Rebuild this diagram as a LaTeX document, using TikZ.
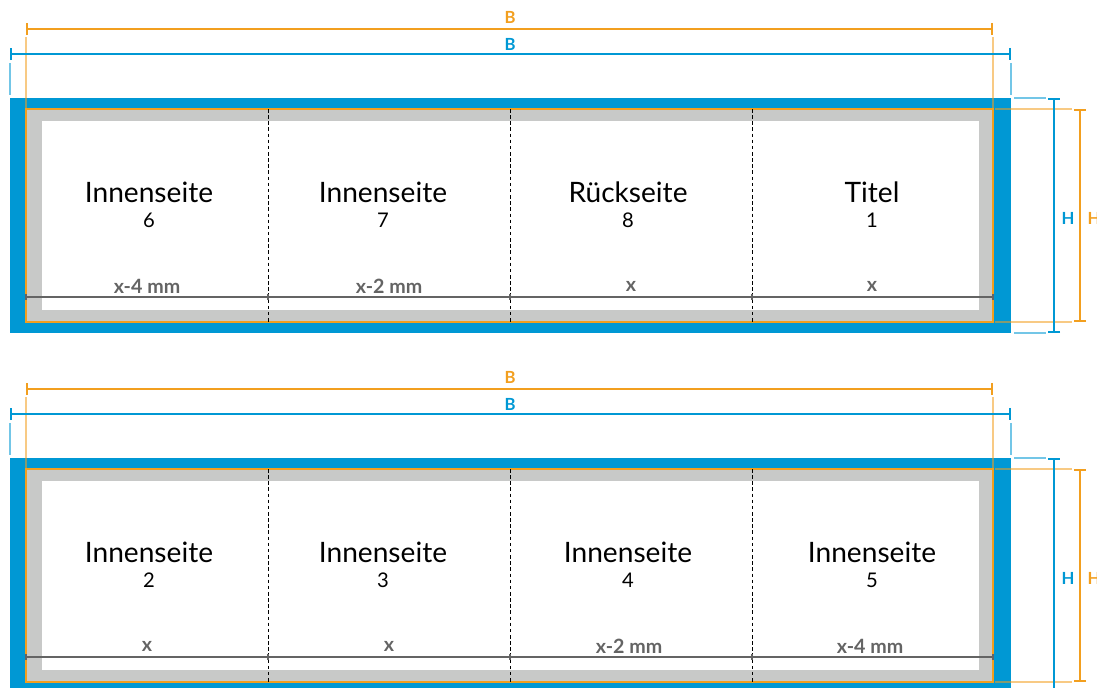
\documentclass[tikz,border=0pt]{standalone}
\usepackage{fontspec}
\setmainfont{Lato}
\usetikzlibrary{arrows.meta}

\definecolor{druckblau}{RGB}{0,152,212}
\definecolor{endorange}{RGB}{242,159,31}
\definecolor{randgrau}{RGB}{200,201,200}
\definecolor{massgrau}{RGB}{100,100,100}

\tikzset{
  bemassung/.style={line width=1.1pt, {Bar[width=7pt]}-{Bar[width=7pt]}},
  hilfslinie/.style={line width=0.9pt, opacity=0.55},
  falz/.style={line width=0.5pt, dash pattern=on 2pt off 1.5pt},
  masslinie/.style={massgrau, line width=1.1pt},
  seite/.style={font=\fontsize{16}{16}\selectfont},
  nummer/.style={font=\fontsize{11.5}{11.5}\selectfont},
  masstext/.style={massgrau, font=\fontsize{11.2}{11.2}\selectfont\bfseries},
  bmtext/.style={font=\fontsize{9.5}{9.5}\selectfont\bfseries}
}

\begin{document}
\begin{tikzpicture}[x=0.02cm, y=-0.02cm]
  \useasboundingbox (0,0) rectangle (1097,688);

  % Aussenseite
  \fill[druckblau] (10,98) rectangle (1011,333);
  \filldraw[fill=randgrau, draw=endorange, line width=1.1pt] (26,109) rectangle (993,322);
  \fill[white] (42,121) rectangle (979,310);
  \draw[falz] (268,109) -- (268,322);
  \draw[falz] (510,109) -- (510,322);
  \draw[falz] (752,109) -- (752,322);

  \node[seite] (s6) at (149,192) {Innenseite};
  \node[nummer] (n6) at (149,220) {6};
  \node[seite] (s7) at (383,192) {Innenseite};
  \node[nummer] (n7) at (383,220) {7};
  \node[seite] (s8) at (628,192) {Rückseite};
  \node[nummer] (n8) at (628,220) {8};
  \node[seite] (s1) at (872,192) {Titel};
  \node[nummer] (n1) at (872,220) {1};

  \draw[masslinie] (26,297) -- (993,297);
  \draw[masslinie, line width=1.6pt] (26,294) -- (26,300) (268,294) -- (268,300)
    (510,294) -- (510,300) (752,294) -- (752,300) (993,294) -- (993,300);
  \node[masstext] (m6) at (147,286) {x-4 mm};
  \node[masstext] (m7) at (389,286) {x-2 mm};
  \node[masstext] (m8) at (631,286) {x};
  \node[masstext] (m1) at (872,286) {x};

  \draw[hilfslinie, endorange] (26,37) -- (26,109);
  \draw[hilfslinie, endorange] (993,37) -- (993,109);
  \draw[hilfslinie, druckblau] (10,63) -- (10,95);
  \draw[hilfslinie, druckblau] (1011,63) -- (1011,95);
  \draw[bemassung, endorange] (26,29) -- (993,29);
  \node[bmtext, endorange] (bo1) at (510,17) {B};
  \draw[bemassung, druckblau] (10,54) -- (1011,54);
  \node[bmtext, druckblau] (bb1) at (510,44) {B};

  \draw[hilfslinie, druckblau] (1014,98) -- (1046,98);
  \draw[hilfslinie, druckblau] (1014,333) -- (1046,333);
  \draw[hilfslinie, endorange] (995,109) -- (1072,109);
  \draw[hilfslinie, endorange] (995,322) -- (1072,322);
  \draw[bemassung, druckblau] (1054,98) -- (1054,333);
  \node[bmtext, druckblau] (hb1) at (1068,218) {H};
  \draw[bemassung, endorange] (1080,109) -- (1080,322);
  \node[bmtext, endorange] (ho1) at (1094,218) {H};

  % Innenseite
  \begin{scope}[shift={(0,360)}]
    \fill[druckblau] (10,98) rectangle (1011,333);
    \filldraw[fill=randgrau, draw=endorange, line width=1.1pt] (26,109) rectangle (993,322);
    \fill[white] (42,121) rectangle (979,310);
    \draw[falz] (268,109) -- (268,322);
    \draw[falz] (510,109) -- (510,322);
    \draw[falz] (752,109) -- (752,322);

    \node[seite] (s2) at (149,192) {Innenseite};
    \node[nummer] (n2) at (149,220) {2};
    \node[seite] (s3) at (383,192) {Innenseite};
    \node[nummer] (n3) at (383,220) {3};
    \node[seite] (s4) at (628,192) {Innenseite};
    \node[nummer] (n4) at (628,220) {4};
    \node[seite] (s5) at (872,192) {Innenseite};
    \node[nummer] (n5) at (872,220) {5};

    \draw[masslinie] (26,297) -- (993,297);
    \draw[masslinie, line width=1.6pt] (26,294) -- (26,300) (268,294) -- (268,300)
      (510,294) -- (510,300) (752,294) -- (752,300) (993,294) -- (993,300);
    \node[masstext] (m2) at (147,286) {x};
    \node[masstext] (m3) at (389,286) {x};
    \node[masstext] (m4) at (629,286) {x-2 mm};
    \node[masstext] (m5) at (870,286) {x-4 mm};

    \draw[hilfslinie, endorange] (26,37) -- (26,109);
    \draw[hilfslinie, endorange] (993,37) -- (993,109);
    \draw[hilfslinie, druckblau] (10,63) -- (10,95);
    \draw[hilfslinie, druckblau] (1011,63) -- (1011,95);
    \draw[bemassung, endorange] (26,29) -- (993,29);
    \node[bmtext, endorange] (bo2) at (510,17) {B};
    \draw[bemassung, druckblau] (10,54) -- (1011,54);
    \node[bmtext, druckblau] (bb2) at (510,44) {B};

    \draw[hilfslinie, druckblau] (1014,98) -- (1046,98);
    \draw[hilfslinie, endorange] (995,109) -- (1072,109);
    \draw[hilfslinie, endorange] (995,322) -- (1072,322);
    \draw[bemassung, druckblau] (1054,98) -- (1054,333);
    \node[bmtext, druckblau] (hb2) at (1068,218) {H};
    \draw[bemassung, endorange] (1080,109) -- (1080,322);
    \node[bmtext, endorange] (ho2) at (1094,218) {H};
  \end{scope}
\end{tikzpicture}
\end{document}
